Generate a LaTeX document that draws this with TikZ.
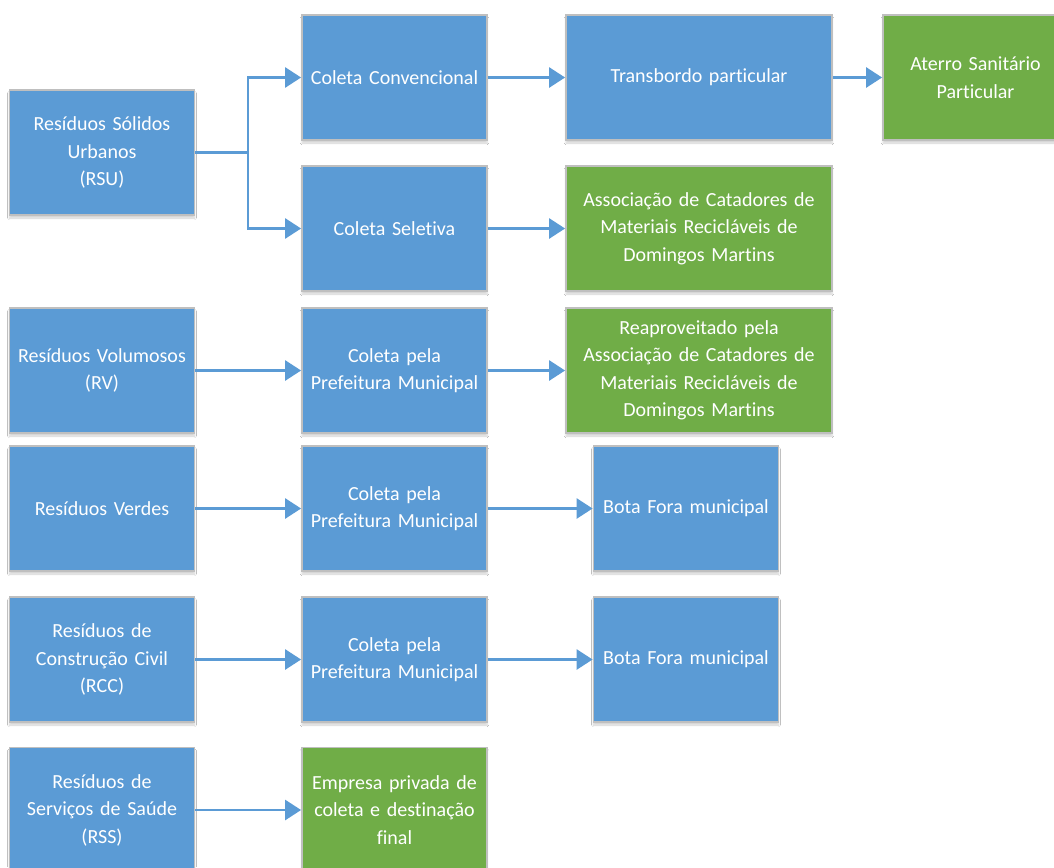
\documentclass[tikz,border=0pt]{standalone}
\usepackage{fontspec}
\setmainfont{Carlito}[Ligatures={NoCommon}]
\usetikzlibrary{arrows.meta,shadows.blur}
\definecolor{boxblue}{HTML}{5B9BD5}
\definecolor{boxgreen}{HTML}{70AD47}
\definecolor{boxedge}{HTML}{BFBFBF}
\tikzset{
  basebox/.style={draw=boxedge, line width=1.8pt, text=white, align=center,
    minimum width=183pt, minimum height=125pt, inner sep=2pt, text width=181pt,
    font=\fontsize{20}{27.5}\selectfont,
    blur shadow={shadow xshift=0pt, shadow yshift=-3pt, shadow blur steps=6, shadow opacity=18}},
  bluebox/.style={basebox, fill=boxblue},
  greenbox/.style={basebox, fill=boxgreen},
  widebox/.style={minimum width=266pt, text width=262pt},
  flow/.style={draw=boxblue, line width=2.6pt, -{Triangle[length=16pt,width=20pt]}},
  plainflow/.style={draw=boxblue, line width=2.6pt}
}
\begin{document}
\begin{tikzpicture}[x=1pt,y=-1pt]
\useasboundingbox (0,0) rectangle (1054,867);
\fill[white] (0,0) rectangle (1054,867);
% row 1 / 2
\node[bluebox] (rsu) at (102,152.5) {Resíduos Sólidos\\Urbanos\\(RSU)};
\node[bluebox] (cc) at (394.5,77.5) {Coleta Convencional};
\node[bluebox] (cs) at (394.5,228.5) {Coleta Seletiva};
\node[bluebox,widebox] (tb) at (699,77.5) {Transbordo particular};
\node[greenbox] (at) at (975.5,77.5) {Aterro Sanitário\\Particular};
\node[greenbox,widebox] (as) at (699,228.5) {Associação de Catadores de\\Materiais Recicláveis de\\Domingos Martins};
% RV
\node[bluebox] (rv) at (102,370.5) {Resíduos Volumosos\\(RV)};
\node[bluebox] (cprv) at (394.5,370.5) {Coleta pela\\Prefeitura Municipal};
\node[greenbox,widebox] (re) at (699,370.5) {Reaproveitado pela\\Associação de Catadores de\\Materiais Recicláveis de\\Domingos Martins};
% Verdes
\node[bluebox] (ver) at (102,508.5) {Resíduos Verdes};
\node[bluebox] (cpver) at (394.5,508.5) {Coleta pela\\Prefeitura Municipal};
\node[bluebox] (bf1) at (686,508.5) {Bota Fora municipal};
% RCC
\node[bluebox] (rcc) at (102,659.5) {Resíduos de\\Construção Civil\\(RCC)};
\node[bluebox] (cprcc) at (394.5,659.5) {Coleta pela\\Prefeitura Municipal};
\node[bluebox] (bf2) at (686,659.5) {Bota Fora municipal};
% RSS
\node[bluebox] (rss) at (102,810) {Resíduos de\\Serviços de Saúde\\(RSS)};
\node[greenbox] (emp) at (394.5,810) {Empresa privada de\\coleta e destinação\\final};
% connectors
\coordinate (j) at (248,152.5);
\draw[plainflow] (rsu.east) -- (j);
\draw[flow] (j) |- (cc.west);
\draw[flow] (j) |- (cs.west);
\draw[flow] (cc) -- (tb);
\draw[flow] (tb) -- (at);
\draw[flow] (cs) -- (as);
\draw[flow] (rv) -- (cprv);
\draw[flow] (cprv) -- (re);
\draw[flow] (ver) -- (cpver);
\draw[flow] (cpver) -- (bf1);
\draw[flow] (rcc) -- (cprcc);
\draw[flow] (cprcc) -- (bf2);
\draw[flow] (rss) -- (emp);
\end{tikzpicture}
\end{document}
